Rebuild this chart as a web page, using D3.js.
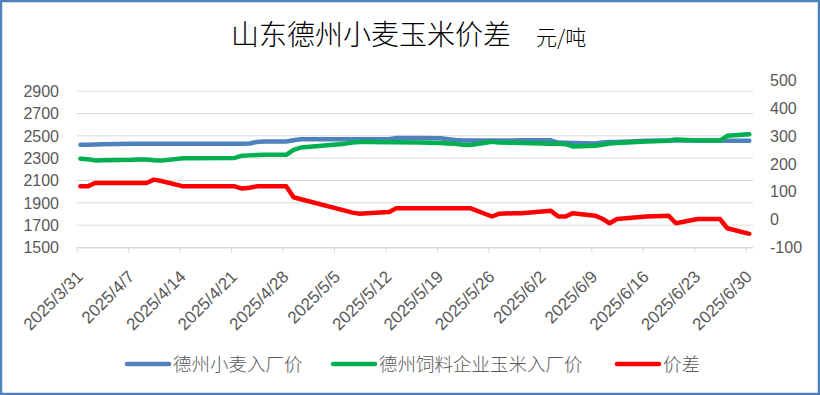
<!DOCTYPE html>
<html lang="zh">
<head>
    <meta charset="UTF-8">
    <title>山东德州小麦玉米价差</title>
    <script src="https://d3js.org/d3.v7.min.js"></script>
    <style>
        body { margin: 0; background: #fff; }
        .tick-label { font: 16px "Liberation Sans", sans-serif; fill: #595959; }
        .x-label { font: 17px "Liberation Sans", sans-serif; fill: #595959; }
        .legend-label { font: 300 18.5px "Noto Sans CJK SC", sans-serif; fill: #595959; }
    </style>
</head>
<body>
<svg id="chart" width="820" height="395"></svg>
<script>
    // values
    var dates = ["2025-03-31", "2025-04-01", "2025-04-02", "2025-04-03", "2025-04-07", "2025-04-08",
        "2025-04-09", "2025-04-10", "2025-04-11", "2025-04-14", "2025-04-21", "2025-04-22",
        "2025-04-23", "2025-04-24", "2025-04-25", "2025-04-28", "2025-04-29", "2025-04-30",
        "2025-05-06", "2025-05-07", "2025-05-08", "2025-05-09", "2025-05-12", "2025-05-13",
        "2025-05-16", "2025-05-19", "2025-05-20", "2025-05-21", "2025-05-22", "2025-05-23",
        "2025-05-26", "2025-05-27", "2025-05-29", "2025-05-30", "2025-06-03", "2025-06-04",
        "2025-06-05", "2025-06-06", "2025-06-09", "2025-06-10", "2025-06-11", "2025-06-12",
        "2025-06-16", "2025-06-19", "2025-06-20", "2025-06-23", "2025-06-26", "2025-06-27",
        "2025-06-30"];

    var wheatPrice = [2420, 2420, 2422, 2425, 2430, 2430, 2430, 2430, 2430, 2430, 2430, 2430,
        2432, 2445, 2450, 2450, 2460, 2470, 2470, 2470, 2470, 2470, 2470, 2480,
        2480, 2478, 2470, 2462, 2458, 2458, 2458, 2458, 2458, 2460, 2460, 2440,
        2437, 2435, 2432, 2440, 2444, 2445, 2455, 2458, 2458, 2458, 2458, 2455,
        2455];

    var cornPrice = [2295, 2290, 2280, 2282, 2285, 2288, 2288, 2282, 2278, 2300, 2302, 2322,
        2325, 2328, 2330, 2330, 2375, 2395, 2430, 2440, 2445, 2445, 2442, 2442,
        2440, 2436, 2432, 2429, 2420, 2418, 2447, 2440, 2438, 2436, 2429, 2429,
        2425, 2405, 2412, 2420, 2432, 2436, 2450, 2456, 2468, 2458, 2458, 2500,
        2515];

    var spread = [119, 119, 131, 131, 131, 131, 131, 143, 138, 119, 119, 111,
        114, 119, 119, 119, 80, 73, 32, 25, 21, 23, 27, 41,
        41, 41, 41, 41, 41, 41, 11, 21, 23, 23, 32, 11,
        11, 23, 14, 3, -13, 2, 11, 14, -13, 2, 2, -31,
        -51];

    var leftTicks = [1500, 1700, 1900, 2100, 2300, 2500, 2700, 2900];
    var rightTicks = [-100, 0, 100, 200, 300, 400, 500];

    var seriesNames = ["德州小麦入厂价", "德州饲料企业玉米入厂价", "价差"];
    var seriesColors = ["#4F81BD", "#00B050", "#FF0000"];

    var parse = d3.utcParse("%Y-%m-%d");
    var dateObjs = dates.map(parse);

    var svg = d3.select("#chart");
    var width = 820, height = 395;
    var plotLeft = 76.7, plotRight = 753, plotTop = 80, plotBottom = 247.5;

    // frame
    svg.append("rect")
        .attr("x", 1).attr("y", 1)
        .attr("width", width - 2).attr("height", height - 2)
        .attr("fill", "#fff")
        .attr("stroke", "#4F81BD")
        .attr("stroke-width", 2.5);

    // title
    var title = svg.append("text")
        .attr("x", 231).attr("y", 45)
        .style("font-family", "'Noto Sans CJK SC', sans-serif")
        .style("font-size", "28px")
        .style("font-weight", 300)
        .attr("fill", "#000");
    title.append("tspan").text("山东德州小麦玉米价差");
    title.append("tspan").attr("x", 536).style("font-size", "21px").text("元/吨");

    var x = d3.scaleUtc()
        .domain([parse("2025-03-31"), parse("2025-07-01")])
        .range([plotLeft, plotRight]);
    var yLeft = d3.scaleLinear().domain([1500, 3000]).range([plotBottom, plotTop]);
    var yRight = d3.scaleLinear().domain([-100, 500]).range([plotBottom, plotTop]);

    // points sit in the middle of their day
    function xPos(d) {
        return x(d3.utcHour.offset(d, 12));
    }

    // gridlines
    svg.append("g")
        .selectAll("line")
        .data(leftTicks)
        .enter().append("line")
        .attr("x1", plotLeft).attr("x2", plotRight)
        .attr("y1", function (d) { return yLeft(d); })
        .attr("y2", function (d) { return yLeft(d); })
        .attr("stroke", "#D9D9D9")
        .attr("stroke-width", 1);

    // left labels
    svg.append("g")
        .selectAll("text")
        .data(leftTicks)
        .enter().append("text")
        .attr("class", "tick-label")
        .attr("x", 59)
        .attr("y", function (d) { return yLeft(d); })
        .attr("dy", "0.36em")
        .attr("text-anchor", "end")
        .text(function (d) { return d; });

    // right labels
    svg.append("g")
        .selectAll("text")
        .data(rightTicks)
        .enter().append("text")
        .attr("class", "tick-label")
        .attr("x", 770)
        .attr("y", function (d) { return yRight(d); })
        .attr("dy", "0.36em")
        .attr("text-anchor", "start")
        .text(function (d) { return d; });

    // x axis, one tick per week
    var weeks = d3.utcMonday.range(parse("2025-03-31"), parse("2025-07-01"));
    var fmt = function (d) {
        return d.getUTCFullYear() + "/" + (d.getUTCMonth() + 1) + "/" + d.getUTCDate();
    };
    var xAxis = svg.append("g")
        .attr("transform", "translate(0," + plotBottom + ")")
        .call(d3.axisBottom(x).tickValues(weeks).tickSize(5).tickSizeOuter(0).tickFormat(""));
    xAxis.select(".domain").attr("stroke", "#D9D9D9");
    xAxis.selectAll(".tick line").attr("stroke", "#D9D9D9");

    svg.append("g")
        .selectAll("text")
        .data(weeks)
        .enter().append("text")
        .attr("class", "x-label")
        .attr("text-anchor", "end")
        .attr("dy", "0.35em")
        .attr("transform", function (d) {
            return "translate(" + (x(d) + 3) + "," + (plotBottom + 26) + ") rotate(-45)";
        })
        .text(fmt);

    // lines
    var lineLeft = d3.line()
        .x(function (d, i) { return xPos(dateObjs[i]); })
        .y(function (d) { return yLeft(d); });
    var lineRight = d3.line()
        .x(function (d, i) { return xPos(dateObjs[i]); })
        .y(function (d) { return yRight(d); });

    var lines = [
        {values: wheatPrice, gen: lineLeft},
        {values: cornPrice, gen: lineLeft},
        {values: spread, gen: lineRight}
    ];

    svg.append("g")
        .selectAll("path")
        .data(lines)
        .enter().append("path")
        .attr("d", function (d) { return d.gen(d.values); })
        .attr("fill", "none")
        .attr("stroke", function (d, i) { return seriesColors[i]; })
        .attr("stroke-width", 4.5)
        .attr("stroke-linejoin", "round")
        .attr("stroke-linecap", "round");

    // legend
    var legendX = [127, 333, 617];
    var legend = svg.append("g")
        .selectAll("g")
        .data(seriesNames)
        .enter().append("g")
        .attr("transform", function (d, i) { return "translate(" + legendX[i] + ",364)"; });
    legend.append("line")
        .attr("x1", 0).attr("x2", 42)
        .attr("stroke", function (d, i) { return seriesColors[i]; })
        .attr("stroke-width", 4.5)
        .attr("stroke-linecap", "round");
    legend.append("text")
        .attr("class", "legend-label")
        .attr("x", 46)
        .attr("y", 7)
        .text(function (d) { return d; });
</script>
</body>
</html>
